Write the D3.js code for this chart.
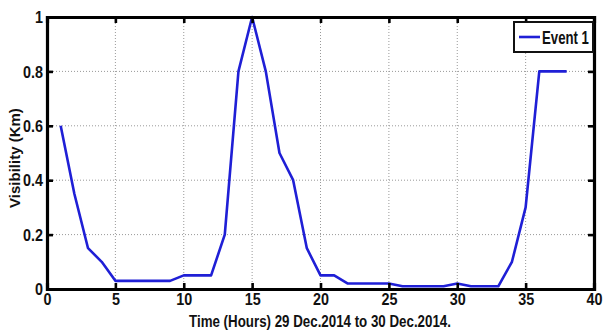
<!DOCTYPE html>
<html>
<head>
<meta charset="utf-8">
<script src="https://cdn.jsdelivr.net/npm/d3@7/dist/d3.min.js"></script>
<style>
  html, body { margin: 0; padding: 0; background: #fff; }
  svg { display: block; }
  .narrow { font-family: "Liberation Sans Narrow", "Arial Narrow", "Liberation Sans", Arial, sans-serif; font-weight: bold; }
</style>
</head>
<body>
<svg id="chart" width="603" height="333"></svg>
<script>
// Hourly visibility readings, 29 Dec 2014 to 30 Dec 2014
const hours = [1,2,3,4,5,6,7,8,9,10,11,12,13,14,15,16,17,18,19,20,21,22,23,24,25,26,27,28,29,30,31,32,33,34,35,36,37,38];
const visibility = [0.6,0.35,0.15,0.1,0.03,0.03,0.03,0.03,0.03,0.05,0.05,0.05,0.2,0.8,1.0,0.8,0.5,0.4,0.15,0.05,0.05,0.02,0.02,0.02,0.02,0.01,0.01,0.01,0.01,0.02,0.01,0.01,0.01,0.1,0.3,0.8,0.8,0.8];
const xTicks = [0,5,10,15,20,25,30,35,40];
const yTicks = [0,0.2,0.4,0.6,0.8,1];
const yTickLabels = ["0","0.2","0.4","0.6","0.8","1"];
const seriesName = "Event 1";
const xTitle = "Time (Hours) 29 Dec.2014 to 30 Dec.2014.";
const yTitle = "Visibility (Km)";

const svg = d3.select("#chart");
const L = 47, R = 594, T = 17, B = 289;

const x = d3.scaleLinear().domain([0, 40]).range([L, R]);
const y = d3.scaleLinear().domain([0, 1]).range([B, T]);

// squeeze a text horizontally so it fits the given width (condensed look)
function fitWidth(sel, width) {
  sel.each(function () {
    const w = this.getComputedTextLength();
    const k = w > 0 ? width / w : 1;
    const t = d3.select(this);
    const tx = +t.attr("x") || 0, ty = +t.attr("y") || 0;
    t.attr("x", null).attr("y", null)
     .attr("transform", `translate(${tx},${ty}) scale(${k},1)`);
  });
}

// dotted grid
const grid = svg.append("g");
grid.selectAll("line.gx").data(xTicks.slice(1, -1)).join("line")
  .attr("x1", d => x(d)).attr("x2", d => x(d)).attr("y1", T).attr("y2", B)
  .attr("stroke", "#999").attr("stroke-width", 1).attr("stroke-dasharray", "1,2");
grid.selectAll("line.gy").data(yTicks.slice(1, -1)).join("line")
  .attr("x1", L).attr("x2", R).attr("y1", d => y(d)).attr("y2", d => y(d))
  .attr("stroke", "#999").attr("stroke-width", 1).attr("stroke-dasharray", "1,2");

// series line
const line = d3.line().x((d, i) => x(hours[i])).y(d => y(d));
svg.append("path").datum(visibility)
  .attr("d", line)
  .attr("fill", "none")
  .attr("stroke", "#1f1fd6")
  .attr("stroke-width", 2.6)
  .attr("stroke-linejoin", "round");

// axes with inward ticks
const tickLen = 6;
const xb = svg.append("g").attr("transform", `translate(0,${B})`)
  .call(d3.axisBottom(x).tickValues(xTicks).tickSize(-tickLen).tickPadding(6).tickFormat(d3.format("d")));
const xt = svg.append("g").attr("transform", `translate(0,${T})`)
  .call(d3.axisTop(x).tickValues(xTicks).tickSize(-tickLen).tickFormat(""));
const yl = svg.append("g").attr("transform", `translate(${L},0)`)
  .call(d3.axisLeft(y).tickValues(yTicks).tickSize(-tickLen).tickPadding(4).tickFormat((d, i) => yTickLabels[i]));
const yr = svg.append("g").attr("transform", `translate(${R},0)`)
  .call(d3.axisRight(y).tickValues(yTicks).tickSize(-tickLen).tickFormat(""));

[xb, xt, yl, yr].forEach(g => {
  g.select(".domain").attr("stroke", "#000").attr("stroke-width", 3.2);
  g.selectAll(".tick line").attr("stroke", "#000").attr("stroke-width", 2.6);
  g.selectAll(".tick text").attr("class", "narrow").attr("fill", "#111").style("font-size", "17px");
});
xb.selectAll(".tick text").attr("dy", "0.6em");
yl.selectAll(".tick text").attr("dy", "0.33em");
// condensed digits: 8px per character
[xb, yl].forEach(g => g.selectAll(".tick text").each(function () {
  const n = this.textContent.length;
  const w = this.getComputedTextLength();
  const k = Math.min(1, (n === 1 ? 8 : n * 8 - (this.textContent.includes(".") ? 4 : 0)) / w);
  const t = d3.select(this);
  const tx = +t.attr("x") || 0, ty = +t.attr("y") || 0;
  t.attr("x", null).attr("y", null).attr("transform", `translate(${tx},${ty}) scale(${k},1)`);
}));

// axis titles
svg.append("text").attr("class", "narrow")
  .attr("x", 320).attr("y", 327)
  .attr("text-anchor", "middle")
  .style("font-size", "16px").attr("fill", "#111")
  .text(xTitle)
  .call(fitWidth, 262);
svg.append("text")
  .attr("transform", "translate(20,158) rotate(-90)")
  .attr("text-anchor", "middle")
  .style("font-family", "'Liberation Sans', Arial, sans-serif")
  .style("font-weight", "bold").style("font-size", "15px").attr("fill", "#111")
  .text(yTitle);

// legend
const lg = svg.append("g");
lg.append("rect").attr("x", 514).attr("y", 22).attr("width", 79).attr("height", 30)
  .attr("fill", "#fff").attr("stroke", "#111").attr("stroke-width", 2);
lg.append("line").attr("x1", 519).attr("x2", 540).attr("y1", 37).attr("y2", 37)
  .attr("stroke", "#1f1fd6").attr("stroke-width", 2.6);
lg.append("text").attr("class", "narrow")
  .attr("x", 542).attr("y", 43.5)
  .style("font-size", "18px").attr("fill", "#111")
  .text(seriesName)
  .call(fitWidth, 47);
</script>
</body>
</html>
